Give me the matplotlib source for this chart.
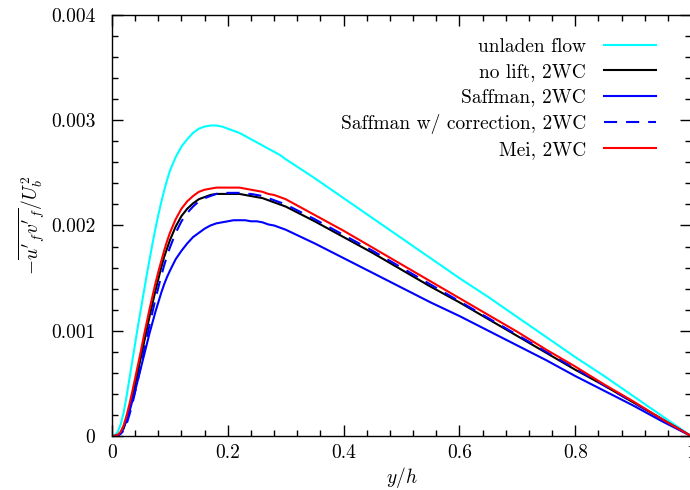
import matplotlib
matplotlib.use("Agg")
import matplotlib.pyplot as plt
from matplotlib.ticker import MultipleLocator, FixedLocator

plt.rcParams['font.family'] = ['cmr10', 'DejaVu Serif']
plt.rcParams['mathtext.fontset'] = 'cm'
plt.rcParams['axes.unicode_minus'] = False

# y/h sample positions
yh = [0, 0.005, 0.01, 0.015, 0.02, 0.025, 0.03, 0.035, 0.04, 0.045, 0.05,
      0.055, 0.06, 0.065, 0.07, 0.075, 0.08, 0.085, 0.09, 0.095, 0.1,
      0.11, 0.12, 0.13, 0.14, 0.15, 0.16, 0.17, 0.18, 0.19, 0.2,
      0.21, 0.22, 0.23, 0.24, 0.25, 0.26, 0.27, 0.28, 0.29, 0.3,
      0.35, 0.4, 0.45, 0.5, 0.55, 0.6, 0.65, 0.7, 0.75, 0.8, 0.85, 0.9, 0.95, 1.0]

unladen = [0, 0.00001, 0.00004, 0.00011, 0.00022, 0.00037, 0.00054, 0.00071, 0.00088, 0.00105, 0.00121,
           0.00137, 0.00153, 0.00168, 0.00183, 0.00197, 0.0021, 0.00222, 0.00233, 0.00243, 0.00252,
           0.00265, 0.00275, 0.00282, 0.00288, 0.00292, 0.00294, 0.00295, 0.00295, 0.00294, 0.00292,
           0.0029, 0.00288, 0.00285, 0.00282, 0.00279, 0.00276, 0.00273, 0.00270, 0.00267, 0.00263,
           0.00245, 0.00226, 0.00207, 0.00188, 0.00169, 0.0015, 0.00132, 0.00113, 0.00094, 0.00075,
           0.00057, 0.00038, 0.00019, 0]

no_lift = [0, 0.000001, 0.000008, 0.00003, 0.00007, 0.00015, 0.00025, 0.00036, 0.00049, 0.00062, 0.00075,
           0.00088, 0.00101, 0.00114, 0.00126, 0.00138, 0.00149, 0.0016, 0.0017, 0.00178, 0.00186,
           0.00199, 0.00209, 0.00216, 0.00221, 0.00225, 0.00227, 0.00229, 0.0023, 0.0023, 0.0023,
           0.0023, 0.0023, 0.00229, 0.00228, 0.00227, 0.00226, 0.00224, 0.00222, 0.0022, 0.00218,
           0.00204, 0.00189, 0.00174, 0.00158, 0.00142, 0.00127, 0.00111, 0.00095, 0.00079, 0.00063,
           0.00048, 0.00032, 0.00016, 0]

saffman = [0, 0.000001, 0.000008, 0.00003, 0.00008, 0.00015, 0.00023, 0.00033, 0.00043, 0.00054, 0.00065,
           0.00076, 0.00087, 0.00098, 0.00108, 0.00118, 0.00127, 0.00136, 0.00144, 0.00151, 0.00157,
           0.00168, 0.00176, 0.00183, 0.00189, 0.00193, 0.00197, 0.002, 0.00202, 0.00203, 0.00204,
           0.00205, 0.00205, 0.00205, 0.00204, 0.00204, 0.00203, 0.00201, 0.002, 0.00198, 0.00196,
           0.00183, 0.00169, 0.00155, 0.00141, 0.00127, 0.00114, 0.001, 0.00086, 0.00072, 0.00057,
           0.00043, 0.00029, 0.00014, 0]

saffman_corr = [0, 0.0000005, 0.000005, 0.00002, 0.00005, 0.00011, 0.0002, 0.0003, 0.00042, 0.00054, 0.00067,
                0.0008, 0.00093, 0.00106, 0.00118, 0.0013, 0.00141, 0.00152, 0.00162, 0.00171, 0.00179,
                0.00193, 0.00204, 0.00212, 0.00218, 0.00223, 0.00226, 0.00228, 0.0023, 0.00231, 0.00231,
                0.00231, 0.00231, 0.0023, 0.0023, 0.00229, 0.00228, 0.00226, 0.00224, 0.00222, 0.0022,
                0.00206, 0.00191, 0.00176, 0.0016, 0.00144, 0.00128, 0.00112, 0.00096, 0.0008, 0.00064,
                0.00048, 0.00032, 0.00016, 0]

mei = [0, 0.000002, 0.000012, 0.00004, 0.0001, 0.00019, 0.0003, 0.00042, 0.00055, 0.00068, 0.00081,
       0.00095, 0.00108, 0.00121, 0.00133, 0.00145, 0.00156, 0.00166, 0.00176, 0.00185, 0.00193,
       0.00206, 0.00216, 0.00223, 0.00228, 0.00232, 0.00234, 0.00235, 0.00236, 0.00236, 0.00236,
       0.00236, 0.00236, 0.00235, 0.00234, 0.00233, 0.00232, 0.0023, 0.00229, 0.00227, 0.00225,
       0.0021, 0.00195, 0.00179, 0.00163, 0.00147, 0.00131, 0.00115, 0.00099, 0.00082, 0.00066,
       0.00049, 0.00033, 0.00016, 0]

labels = ["unladen flow", "no lift, 2WC", "Saffman, 2WC",
          "Saffman w/ correction, 2WC", "Mei, 2WC"]

xticks = [0, 0.2, 0.4, 0.6, 0.8, 1.0]
xticklabels = ["0", "0.2", "0.4", "0.6", "0.8", "1"]
yticks = [0, 0.001, 0.002, 0.003, 0.004]
yticklabels = ["0", "0.001", "0.002", "0.003", "0.004"]

fig = plt.figure(figsize=(6.9, 4.9), dpi=100)
ax = fig.add_axes([112/690, 54/490, (691-112)/690, (436-15)/490])

lw = 1.5
ax.plot(yh, unladen, color='#00FFFF', lw=lw, label=labels[0])
ax.plot(yh, no_lift, color='black', lw=lw, label=labels[1])
ax.plot(yh, saffman, color='#0000FF', lw=lw, label=labels[2])
ax.plot(yh, saffman_corr, color='#0000FF', lw=lw, dashes=(6.3, 4.3), label=labels[3])
ax.plot(yh, mei, color='#FF0000', lw=lw, label=labels[4])

ax.set_xlim(0, 1)
ax.set_ylim(0, 0.004)
ax.xaxis.set_major_locator(FixedLocator(xticks))
ax.set_xticklabels(xticklabels)
ax.yaxis.set_major_locator(FixedLocator(yticks))
ax.set_yticklabels(yticklabels)
ax.xaxis.set_minor_locator(MultipleLocator(0.04))
ax.yaxis.set_minor_locator(MultipleLocator(0.0002))
ax.tick_params(which='both', direction='in', top=True, right=True, width=1.0)
ax.tick_params(which='major', length=8, labelsize=14, pad=6)
ax.tick_params(axis='y', which='major', pad=12)
ax.tick_params(which='minor', length=4.5)
for s in ax.spines.values():
    s.set_linewidth(1.0)

ax.set_xlabel(r"$y/h$", fontsize=14, labelpad=2)
ax.set_ylabel(r"$-\overline{u'_f v'_f}/U_b^2$", fontsize=14, labelpad=2)

leg = ax.legend(loc='upper right', bbox_to_anchor=(656/690, 1 - 38/490),
                bbox_transform=fig.transFigure, frameon=False, fontsize=14,
                markerfirst=False, handlelength=2.7, handletextpad=0.9,
                labelspacing=0.38, borderpad=0, borderaxespad=0)

fig.savefig("out.png", dpi=100)
